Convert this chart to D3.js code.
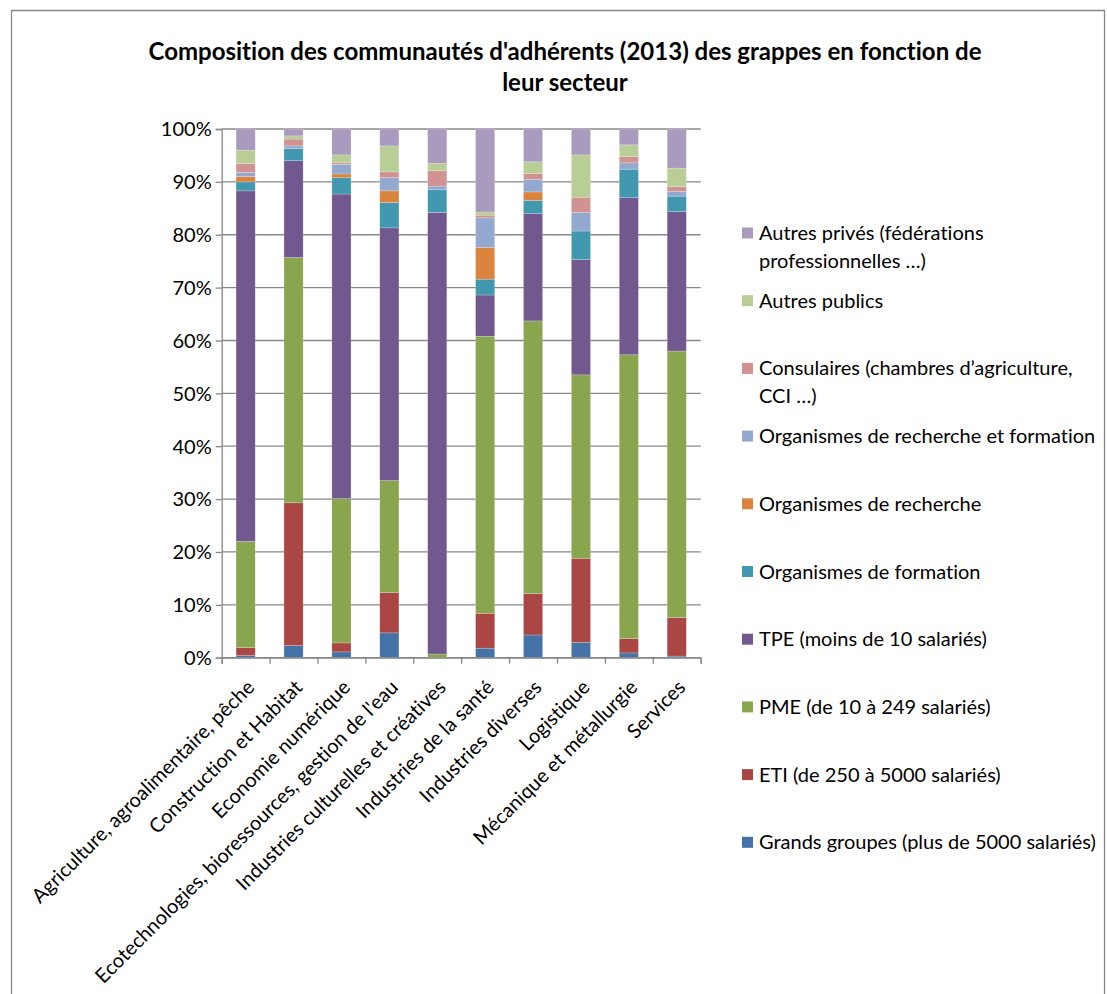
<!DOCTYPE html>
<html lang="fr">
<head>
<meta charset="utf-8">
<script src="https://cdn.jsdelivr.net/npm/d3@7"></script>
<style>
  html, body { margin: 0; padding: 0; background: #ffffff; }
  svg { display: block; }
  text { font-family: Lato, "Open Sans", sans-serif; fill: #000; font-variant-ligatures: none; }
</style>
</head>
<body>
<svg id="chart" width="1107" height="994"></svg>
<script>
// Sectors (one stacked column each)
const categories = [
  "Agriculture, agroalimentaire, pêche",
  "Construction et Habitat",
  "Economie numérique",
  "Ecotechnologies, bioressources, gestion de l'eau",
  "Industries culturelles et créatives",
  "Industries de la santé",
  "Industries diverses",
  "Logistique",
  "Mécanique et métallurgie",
  "Services"
];

// Share of members (%) per type, stacked bottom to top
const grandsGroupes   = [0.4, 2.3, 1.1, 4.7, 0.0, 1.8, 4.3, 2.9, 0.9, 0.3];
const eti             = [1.5, 27.0, 1.7, 7.6, 0.0, 6.6, 7.8, 15.9, 2.7, 7.3];
const pme             = [20.1, 46.4, 27.3, 21.2, 0.7, 52.4, 51.6, 34.7, 53.7, 50.4];
const tpe             = [66.3, 18.3, 57.6, 47.8, 83.5, 7.8, 20.3, 21.8, 29.7, 26.4];
const orgFormation    = [1.7, 2.3, 3.1, 4.8, 4.3, 3.0, 2.5, 5.4, 5.4, 2.9];
const orgRecherche    = [1.0, 0.0, 0.7, 2.2, 0.0, 6.0, 1.6, 0.0, 0.0, 0.0];
const orgRechForm     = [0.8, 0.5, 1.8, 2.5, 0.7, 5.6, 2.4, 3.5, 1.2, 0.9];
const consulaires     = [1.7, 1.3, 0.3, 1.1, 2.9, 0.5, 1.1, 2.9, 1.2, 0.9];
const autresPublics   = [2.5, 0.6, 1.5, 4.9, 1.4, 0.6, 2.2, 8.0, 2.2, 3.5];
const autresPrives    = [4.0, 1.3, 4.9, 3.2, 6.5, 15.7, 6.2, 4.9, 3.0, 7.4];

const seriesNames = [
  "Grands groupes (plus de 5000 salariés)",
  "ETI (de 250 à 5000 salariés)",
  "PME (de 10 à 249 salariés)",
  "TPE (moins de 10 salariés)",
  "Organismes de formation",
  "Organismes de recherche",
  "Organismes de recherche et formation",
  "Consulaires (chambres d’agriculture,\nCCI …)",
  "Autres publics",
  "Autres privés (fédérations\nprofessionnelles …)"
];
const seriesValues = [grandsGroupes, eti, pme, tpe, orgFormation, orgRecherche,
                      orgRechForm, consulaires, autresPublics, autresPrives];
const seriesColors = ["#4572A7", "#AA4643", "#89A54E", "#71588F", "#4198AF",
                      "#DB843D", "#93A9CF", "#D19392", "#B9CD96", "#A99BBD"];

const yTicks = [0, 10, 20, 30, 40, 50, 60, 70, 80, 90, 100];

const title = ["Composition des communautés d'adhérents (2013) des grappes en fonction de",
               "leur secteur"];

// ---- layout
const svg = d3.select("#chart");
const plot = { left: 221.7, right: 700.7, top: 129, bottom: 657.7 };
const gridColor = "#878787";

// outer frame
svg.append("path")
  .attr("d", "M11.5,1000 V10.5 H1104.5 V1000")
  .attr("fill", "none").attr("stroke", gridColor).attr("stroke-width", 1.3);

// title
svg.append("g").selectAll("text").data(title).join("text")
  .attr("x", 565).attr("y", (d, i) => 60 + i * 31)
  .attr("text-anchor", "middle")
  .attr("font-size", 24).attr("font-weight", 700)
  .text(d => d);

// scales
const table = categories.map((c, i) => {
  const row = { category: c };
  seriesNames.forEach((s, k) => row[s] = seriesValues[k][i]);
  return row;
});
const stacked = d3.stack().keys(seriesNames)(table);

const x = d3.scaleBand().domain(categories).range([plot.left, plot.right]).padding(0);
const y = d3.scaleLinear().domain([0, 100]).range([plot.bottom, plot.top]);
const barW = x.step() / 2.5;

// gridlines
svg.append("g").selectAll("line").data(yTicks).join("line")
  .attr("x1", plot.left).attr("x2", plot.right)
  .attr("y1", d => y(d)).attr("y2", d => y(d))
  .attr("stroke", gridColor).attr("stroke-width", 1.3);

// y axis
const yAxis = svg.append("g")
  .attr("transform", `translate(${plot.left},0)`)
  .call(d3.axisLeft(y).tickValues(yTicks).tickFormat(d => d + "%").tickSize(6).tickPadding(4));
yAxis.select(".domain").attr("stroke", gridColor).attr("stroke-width", 1.3);
yAxis.selectAll(".tick line").attr("stroke", gridColor).attr("stroke-width", 1.3);
yAxis.selectAll(".tick text").attr("font-size", 20).attr("font-family", "Lato, sans-serif")
  .attr("fill", "#000").attr("dy", "0.34em");

// bars
svg.append("g").selectAll("g").data(stacked).join("g")
  .attr("fill", (d, k) => seriesColors[k])
  .selectAll("rect").data(d => d).join("rect")
  .attr("x", d => x(d.data.category) + x.step() / 2 - barW / 2)
  .attr("width", barW)
  .attr("y", d => y(d[1]))
  .attr("height", d => Math.max(0, y(d[0]) - y(d[1])))
  .attr("stroke", "rgba(255,255,255,0.35)").attr("stroke-width", 0.6);

// x axis with ticks at category boundaries
const xEdges = d3.scaleLinear().domain([0, categories.length]).range([plot.left, plot.right]);
const xAxis = svg.append("g")
  .attr("transform", `translate(0,${plot.bottom})`)
  .call(d3.axisBottom(xEdges).tickValues(d3.range(categories.length + 1)).tickFormat("").tickSize(6));
xAxis.select(".domain").attr("stroke", gridColor).attr("stroke-width", 1.3);
xAxis.selectAll(".tick line").attr("stroke", gridColor).attr("stroke-width", 1.3);

// rotated category labels
svg.append("g").selectAll("text").data(categories).join("text")
  .attr("transform", d => `translate(${x(d) + x.step() / 2 + 5},${plot.bottom + 26}) rotate(-45)`)
  .attr("text-anchor", "end")
  .attr("dy", "0.35em")
  .attr("font-size", 20)
  .text(d => d);

// legend (top entry = top of stack)
const legend = svg.append("g");
const legendOrder = d3.range(seriesNames.length).reverse();
legendOrder.forEach((k, i) => {
  const cy = 233 + i * 67.7;
  legend.append("rect")
    .attr("x", 742).attr("y", cy - 5.5).attr("width", 11).attr("height", 11)
    .attr("fill", seriesColors[k]);
  seriesNames[k].split("\n").forEach((line, j) => {
    legend.append("text")
      .attr("x", 759).attr("y", cy + j * 28).attr("dy", "0.35em")
      .attr("font-size", 20)
      .text(line);
  });
});
</script>
</body>
</html>
